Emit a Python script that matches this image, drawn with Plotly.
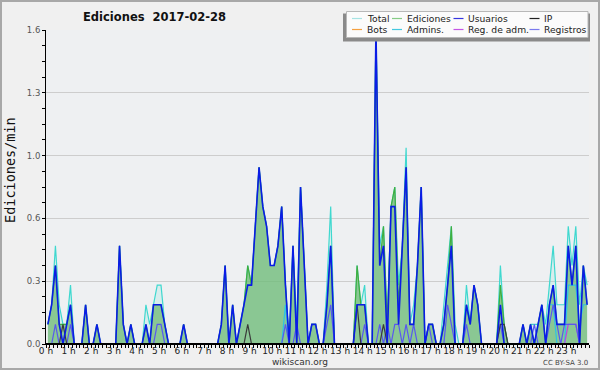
import numpy as np
import plotly.graph_objects as go

# ---------------- data (edits per minute, 10-minute bins, 2017-02-28) ----------------
hour_labels = [f"{h} h" for h in range(24)]
y_tick_vals = [0.0, 0.32, 0.64, 0.96, 1.28, 1.6]
y_tick_text = ["0.0", "0.3", "0.6", "1.0", "1.3", "1.6"]

total = [
    0.1, 0.2, 0.5, 0.2, 0.1, 0.1,   0.3, 0.0, 0.0, 0.0, 0.2, 0.0,
    0.0, 0.1, 0.0, 0.0, 0.0, 0.0,   0.0, 0.5, 0.1, 0.0, 0.1, 0.0,
    0.0, 0.0, 0.2, 0.1, 0.2, 0.3,   0.3, 0.1, 0.0, 0.0, 0.0, 0.0,
    0.1, 0.0, 0.0, 0.0, 0.0, 0.0,   0.0, 0.0, 0.0, 0.0, 0.1, 0.4,
    0.0, 0.2, 0.0, 0.1, 0.2, 0.4,   0.3, 0.6, 0.9, 0.7, 0.6, 0.4,
    0.4, 0.5, 0.7, 0.3, 0.0, 0.5,   0.1, 0.8, 0.4, 0.0, 0.1, 0.1,
    0.0, 0.0, 0.3, 0.7, 0.0, 0.0,   0.0, 0.0, 0.0, 0.0, 0.4, 0.2,
    0.3, 0.0, 0.0, 1.6, 0.5, 0.6,   0.1, 0.7, 0.8, 0.3, 0.5, 1.0,
    0.1, 0.2, 0.4, 0.8, 0.0, 0.1,   0.1, 0.0, 0.0, 0.2, 0.4, 0.6,
    0.1, 0.0, 0.0, 0.3, 0.1, 0.3,   0.2, 0.0, 0.0, 0.0, 0.0, 0.0,
    0.4, 0.1, 0.0, 0.0, 0.0, 0.0,   0.1, 0.0, 0.1, 0.1, 0.1, 0.2,
    0.1, 0.3, 0.5, 0.2, 0.2, 0.2,   0.6, 0.4, 0.6, 0.2, 0.4, 0.3,
]
ediciones = [
    0.1, 0.2, 0.4, 0.1, 0.1, 0.1,   0.2, 0.0, 0.0, 0.0, 0.2, 0.0,
    0.0, 0.1, 0.0, 0.0, 0.0, 0.0,   0.0, 0.5, 0.1, 0.0, 0.1, 0.0,
    0.0, 0.0, 0.1, 0.0, 0.2, 0.2,   0.2, 0.1, 0.0, 0.0, 0.0, 0.0,
    0.1, 0.0, 0.0, 0.0, 0.0, 0.0,   0.0, 0.0, 0.0, 0.0, 0.1, 0.4,
    0.0, 0.2, 0.0, 0.1, 0.2, 0.4,   0.3, 0.6, 0.9, 0.7, 0.6, 0.4,
    0.4, 0.5, 0.7, 0.3, 0.0, 0.5,   0.0, 0.8, 0.4, 0.0, 0.1, 0.1,
    0.0, 0.0, 0.2, 0.5, 0.0, 0.0,   0.0, 0.0, 0.0, 0.0, 0.4, 0.2,
    0.2, 0.0, 0.0, 1.6, 0.4, 0.6,   0.1, 0.7, 0.8, 0.2, 0.5, 0.9,
    0.1, 0.1, 0.4, 0.8, 0.0, 0.1,   0.1, 0.0, 0.0, 0.1, 0.3, 0.6,
    0.0, 0.0, 0.0, 0.2, 0.1, 0.3,   0.2, 0.0, 0.0, 0.0, 0.0, 0.0,
    0.3, 0.1, 0.0, 0.0, 0.0, 0.0,   0.1, 0.0, 0.1, 0.0, 0.1, 0.2,
    0.0, 0.2, 0.3, 0.1, 0.1, 0.1,   0.5, 0.3, 0.5, 0.0, 0.4, 0.2,
]
usuarios = [
    0.1, 0.2, 0.4, 0.1, 0.0, 0.1,   0.2, 0.0, 0.0, 0.0, 0.2, 0.0,
    0.0, 0.1, 0.0, 0.0, 0.0, 0.0,   0.0, 0.5, 0.1, 0.0, 0.1, 0.0,
    0.0, 0.0, 0.1, 0.0, 0.2, 0.2,   0.2, 0.1, 0.0, 0.0, 0.0, 0.0,
    0.1, 0.0, 0.0, 0.0, 0.0, 0.0,   0.0, 0.0, 0.0, 0.0, 0.1, 0.4,
    0.0, 0.2, 0.0, 0.1, 0.2, 0.3,   0.3, 0.6, 0.9, 0.7, 0.6, 0.4,
    0.4, 0.5, 0.7, 0.3, 0.0, 0.5,   0.0, 0.8, 0.4, 0.0, 0.1, 0.1,
    0.0, 0.0, 0.2, 0.5, 0.0, 0.0,   0.0, 0.0, 0.0, 0.0, 0.2, 0.2,
    0.2, 0.0, 0.0, 1.6, 0.4, 0.5,   0.0, 0.7, 0.7, 0.1, 0.5, 0.9,
    0.1, 0.1, 0.4, 0.8, 0.0, 0.1,   0.1, 0.0, 0.0, 0.1, 0.3, 0.5,
    0.0, 0.0, 0.0, 0.2, 0.1, 0.3,   0.2, 0.0, 0.0, 0.0, 0.0, 0.0,
    0.2, 0.0, 0.0, 0.0, 0.0, 0.0,   0.1, 0.0, 0.1, 0.0, 0.1, 0.2,
    0.0, 0.2, 0.3, 0.1, 0.1, 0.1,   0.5, 0.3, 0.5, 0.0, 0.4, 0.2,
]
ip = [0.0] * 144
for k, v in {4: 0.1, 53: 0.1, 82: 0.2, 89: 0.1, 120: 0.1, 121: 0.1}.items():
    ip[k] = v
bots = [0.0] * 144
admins = [0.0] * 144
for k, v in {63: 0.2, 133: 0.2, 134: 0.2, 138: 0.3, 139: 0.3, 140: 0.3,
             141: 0.1, 142: 0.2, 143: 0.2}.items():
    admins[k] = v
reg_adm = [0.0] * 144
for k, v in {138: 0.1, 139: 0.1, 140: 0.1}.items():
    reg_adm[k] = v
registros = [0.0] * 144
for k, v in {2: 0.1, 6: 0.1, 29: 0.1, 30: 0.1, 63: 0.1, 66: 0.1, 74: 0.1, 75: 0.2,
             84: 0.1, 88: 0.1, 90: 0.1, 92: 0.1, 93: 0.1, 95: 0.1, 97: 0.1, 101: 0.1,
             106: 0.2, 107: 0.1, 111: 0.1, 120: 0.1, 129: 0.1, 133: 0.1, 134: 0.2,
             135: 0.1, 137: 0.1, 138: 0.1, 139: 0.1, 140: 0.1}.items():
    registros[k] = v

# bin centres in hours
x_hours = (np.arange(144) * 10 + 5) / 60.0

# ---------------- layout geometry ----------------
W, H = 600, 370
ML, MR, MT, MB = 46, 11, 30, 26
PW, PH = W - ML - MR, H - MT - MB


def px_x(px):
    return (px - ML) / PW


def px_y(py):
    return (H - MB - py) / PH


FONT = "DejaVu Sans"

C_TOTAL = "#3fd8cf"
C_ED = "#3fae3f"
C_USR = "#0a1ce6"
C_IP = "#3a3a3a"
C_BOTS = "#ff9b30"
C_ADM = "#2cc3e6"
C_REGADM = "#c040e0"
C_REG = "#5858f0"

fig = go.Figure()
fig.add_trace(go.Scatter(x=x_hours, y=total, mode="lines", name="Total",
                         line=dict(color=C_TOTAL, width=1.2),
                         fill="tozeroy", fillcolor="rgba(150,228,222,0.25)"))
fig.add_trace(go.Scatter(x=x_hours, y=ediciones, mode="lines", name="Ediciones",
                         line=dict(color=C_ED, width=1.2),
                         fill="tozeroy", fillcolor="rgba(108,184,112,0.72)"))
fig.add_trace(go.Scatter(x=x_hours, y=bots, mode="lines", name="Bots",
                         line=dict(color=C_BOTS, width=1)))
fig.add_trace(go.Scatter(x=x_hours, y=admins, mode="lines", name="Admins.",
                         line=dict(color=C_ADM, width=1.2)))
fig.add_trace(go.Scatter(x=x_hours, y=reg_adm, mode="lines", name="Reg. de adm.",
                         line=dict(color=C_REGADM, width=1.2)))
fig.add_trace(go.Scatter(x=x_hours, y=registros, mode="lines", name="Registros",
                         line=dict(color=C_REG, width=1.2)))
fig.add_trace(go.Scatter(x=x_hours, y=ip, mode="lines", name="IP",
                         line=dict(color=C_IP, width=1.2)))
fig.add_trace(go.Scatter(x=x_hours, y=usuarios, mode="lines", name="Usuarios",
                         line=dict(color=C_USR, width=1.6)))
fig.update_traces(showlegend=False, hoverinfo="skip")

shapes = []
annotations = []

# baseline (x axis line), drawn over the zero-valued stretches of the lines
shapes.append(dict(type="line", xref="paper", yref="y", x0=0, x1=1, y0=0, y1=0,
                   line=dict(color="#000", width=2.2), layer="above"))

# outer frame
shapes.append(dict(type="rect", xref="paper", yref="paper",
                   x0=px_x(1), x1=px_x(599), y0=px_y(1), y1=px_y(369),
                   line=dict(color="#a8a8a8", width=2), fillcolor="rgba(0,0,0,0)", layer="above"))

# title and axis label
annotations.append(dict(text="<b>Ediciones  2017-02-28</b>", xref="paper", yref="paper",
                        x=px_x(154), y=px_y(17), xanchor="center", yanchor="middle",
                        showarrow=False, font=dict(family=FONT, size=11.5, color="#111")))
annotations.append(dict(text="Ediciones/min", xref="paper", yref="paper",
                        x=px_x(10), y=px_y(170), xanchor="center", yanchor="middle",
                        textangle=-90, showarrow=False,
                        font=dict(family="DejaVu Sans Mono", size=13.5, color="#111")))
annotations.append(dict(text="wikiscan.org", xref="paper", yref="paper",
                        x=px_x(300), y=px_y(361.5), xanchor="center", yanchor="middle",
                        showarrow=False, font=dict(family=FONT, size=9, color="#333")))
annotations.append(dict(text="CC BY-SA 3.0", xref="paper", yref="paper",
                        x=px_x(590), y=px_y(362.5), xanchor="right", yanchor="middle",
                        showarrow=False, font=dict(family=FONT, size=7, color="#444")))

# custom legend box (shadow + box)
shapes.append(dict(type="rect", xref="paper", yref="paper",
                   x0=px_x(343), x1=px_x(590), y0=px_y(41.5), y1=px_y(13.5),
                   line=dict(width=0), fillcolor="#8a8a8a", layer="above"))
shapes.append(dict(type="rect", xref="paper", yref="paper",
                   x0=px_x(346.5), x1=px_x(588), y0=px_y(37.5), y1=px_y(11.5),
                   line=dict(color="#b8b8b8", width=1), fillcolor="#fbfbfb", layer="above"))

legend_names = ["Total", "Ediciones", "Usuarios", "IP",
                "Bots", "Admins.", "Reg. de adm.", "Registros"]
legend_colors = ["#a6e3e3", "#86cc86", "#3535e0", "#222222",
                 "#f5a040", "#44c8e0", "#c455e4", "#7a7aee"]
col_px = [352, 392, 453.5, 529.5]
row_px = [18.5, 29.5]
for k, (nm, col) in enumerate(zip(legend_names, legend_colors)):
    r, c = divmod(k, 4)
    x0 = col_px[c]
    y0 = row_px[r]
    shapes.append(dict(type="line", xref="paper", yref="paper",
                       x0=px_x(x0), x1=px_x(x0 + 10), y0=px_y(y0), y1=px_y(y0),
                       line=dict(color=col, width=1.2), layer="above"))
    annotations.append(dict(text=nm, xref="paper", yref="paper",
                            x=px_x(x0 + 12.5), y=px_y(y0), xanchor="left", yanchor="middle",
                            showarrow=False, font=dict(family=FONT, size=9.2, color="#222")))

fig.update_layout(
    width=W, height=H,
    margin=dict(l=ML, r=MR, t=MT, b=MB),
    paper_bgcolor="#f0f0f0",
    plot_bgcolor="#eef0f2",
    showlegend=False,
    shapes=shapes,
    annotations=annotations,
    xaxis=dict(range=[0, 24], tickmode="array", tickvals=list(range(24)), ticktext=hour_labels,
               showgrid=False, zeroline=False, showline=True, linecolor="#000", linewidth=1,
               ticks="outside", ticklen=3, tickcolor="#000", tickwidth=1,
               ticklabelstandoff=-5,
               tickfont=dict(family=FONT, size=9, color="#222"),
               minor=dict(tickmode="linear", tick0=0, dtick=1 / 6, ticks="outside",
                          ticklen=3, tickcolor="#000", tickwidth=1, showgrid=False),
               fixedrange=True),
    yaxis=dict(range=[0, 1.6], tickmode="array", tickvals=y_tick_vals, ticktext=y_tick_text,
               showgrid=True, gridcolor="#cdcdcd", gridwidth=1, zeroline=False,
               showline=True, linecolor="#000", linewidth=1,
               ticks="outside", ticklen=3, tickcolor="#000", tickwidth=1,
               tickfont=dict(family=FONT, size=8.5, color="#555"),
               minor=dict(tickmode="linear", tick0=0, dtick=0.08, ticks="outside",
                          ticklen=3, tickcolor="#000", tickwidth=1, showgrid=False),
               fixedrange=True),
)

fig.write_html("out.html")
